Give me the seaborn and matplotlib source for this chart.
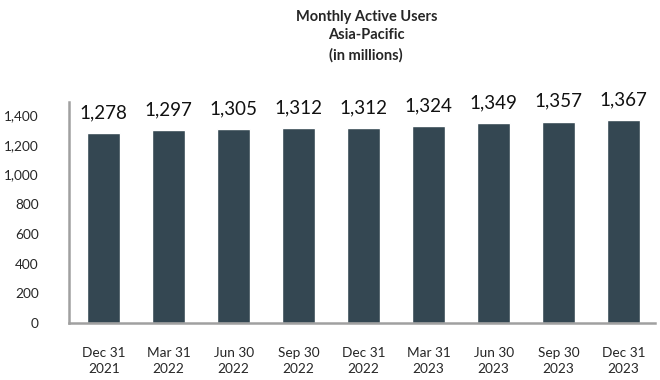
import matplotlib
matplotlib.use("Agg")
import matplotlib.pyplot as plt
import pandas as pd
import seaborn as sns

quarters = ["Dec 31\n2021", "Mar 31\n2022", "Jun 30\n2022", "Sep 30\n2022", "Dec 31\n2022",
            "Mar 31\n2023", "Jun 30\n2023", "Sep 30\n2023", "Dec 31\n2023"]
users = [1278, 1297, 1305, 1312, 1312, 1324, 1349, 1357, 1367]
yticks = [0, 200, 400, 600, 800, 1000, 1200, 1400]

df = pd.DataFrame({"quarter": quarters, "users": users})

sns.set_style("white")
plt.rcParams["font.family"] = ["Lato", "DejaVu Sans"]

fig = plt.figure(figsize=(6.6, 3.8), dpi=100)
ax = fig.add_axes([0.105, 0.15, 0.887, 0.582])

sns.barplot(data=df, x="quarter", y="users", color="#344752", width=0.5,
            saturation=1, ax=ax)

for i, v in enumerate(users):
    ax.text(i, v + 80, f"{v:,}", ha="center", va="bottom", fontsize=13.5, color="#111111")

ax.set_ylim(0, 1490)
ax.set_xlim(-0.53, 8.48)
ax.set_yticks(yticks)
ax.set_yticklabels([f"{t:,}" for t in yticks], fontsize=9.8)
ax.tick_params(axis="y", length=0, pad=22)
ax.tick_params(axis="x", length=0, pad=17)
for lbl in ax.get_xticklabels():
    lbl.set_fontsize(9.8)
    lbl.set_linespacing(1.45)
ax.set_xlabel("")
ax.set_ylabel("")

for side in ["top", "right"]:
    ax.spines[side].set_visible(False)
for side in ["left", "bottom"]:
    ax.spines[side].set_color("#a0a0a0")
    ax.spines[side].set_linewidth(1.8)

fig.text(0.555, 0.975, "Monthly Active Users\nAsia-Pacific\n(in millions)", ha="center", va="top",
         fontsize=10.5, fontweight="bold", linespacing=1.45)

fig.savefig("out.png", dpi=100)
